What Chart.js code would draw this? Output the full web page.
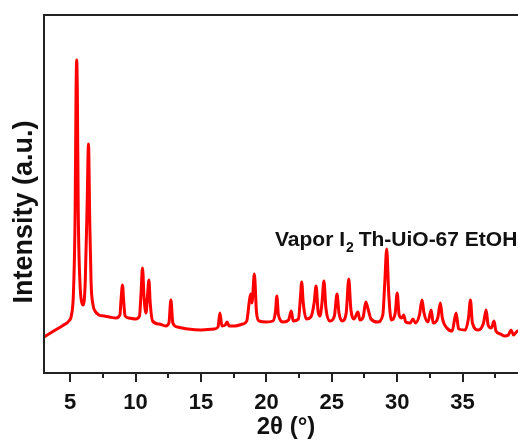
<!DOCTYPE html>
<html>
<head>
<meta charset="utf-8">
<script src="https://cdn.jsdelivr.net/npm/chart.js@4"></script>
<style>
  html, body { margin: 0; padding: 0; overflow: hidden; background: #fff; }
  #xrd { display: block; }
</style>
</head>
<body>
<canvas id="xrd" width="532" height="442"></canvas>
<script>
// 2-theta positions (deg) and intensity (a.u.)
const twoTheta = [
  3.0, 3.5, 4.0, 4.5, 4.9, 5.1, 5.25, 5.38, 5.45, 5.5, 5.55, 5.62, 5.75, 5.9, 6.0,
  6.15, 6.3, 6.4, 6.5, 6.6, 6.75, 6.9, 7.2, 7.6, 8.0, 8.5, 8.8, 8.9, 9.0, 9.1,
  9.2, 9.5, 10.0, 10.3, 10.42, 10.53, 10.65, 10.8, 10.9, 11.02, 11.12, 11.3, 11.8, 12.3, 12.55,
  12.7, 12.85, 13.2, 14.0, 15.0, 16.0, 16.3, 16.45, 16.6, 16.85, 17.0, 17.15, 17.6, 18.2, 18.5,
  18.7, 18.8, 18.9, 19.08, 19.25, 19.45, 20.0, 20.5, 20.7, 20.8, 20.92, 21.3, 21.7, 21.9, 22.05,
  22.45, 22.6, 22.7, 22.82, 23.05, 23.4, 23.65, 23.8, 23.95, 24.1, 24.25, 24.4, 24.55, 24.85, 25.2,
  25.4, 25.55, 25.8, 26.1, 26.3, 26.45, 26.7, 27.0, 27.15, 27.4, 27.6, 27.75, 28.0, 28.5, 28.9,
  29.05, 29.2, 29.35, 29.55, 29.85, 30.0, 30.15, 30.35, 30.5, 30.65, 31.0, 31.2, 31.4, 31.7, 31.9,
  32.05, 32.35, 32.6, 32.75, 33.1, 33.3, 33.45, 33.8, 34.2, 34.5, 34.7, 35.2, 35.45, 35.6, 35.75,
  36.2, 36.6, 36.8, 36.95, 37.2, 37.4, 37.55, 37.9, 38.2, 38.5, 38.7, 38.9, 39.2, 39.5, 40.0
];
const intensity = [
  36, 40, 44, 48, 52, 58, 80, 160, 280, 313, 280, 160, 90, 70, 68,
  90, 170, 229, 150, 90, 68, 62, 58, 57, 56, 55, 58, 75, 88, 70,
  57, 55, 54, 57, 80, 105, 75, 60, 75, 93, 70, 52, 49, 47, 50,
  73, 50, 46, 44, 43, 44, 46, 60, 47, 48, 51, 47, 47, 49, 52,
  72, 79, 70, 99, 60, 52, 51, 52, 62, 77, 58, 51, 53, 62, 52,
  54, 75, 91, 70, 54, 56, 70, 87, 62, 57, 70, 92, 65, 52, 57,
  79, 60, 52, 60, 94, 65, 54, 61, 53, 56, 71, 65, 54, 51, 58,
  90, 124, 80, 53, 60, 80, 58, 55, 58, 51, 50, 54, 50, 58, 73,
  60, 51, 63, 50, 55, 70, 55, 45, 42, 60, 44, 43, 55, 73, 50,
  43, 50, 63, 48, 45, 52, 42, 39, 37, 38, 43, 38, 42, 40, 38
];
const xTickValues = [5, 10, 15, 20, 25, 30, 35];
const xMinorValues = [7.5, 12.5, 17.5, 22.5, 27.5, 32.5, 37.5];
const sampleLabel = ['Vapor I', '2', ' Th-UiO-67 EtOH'];

const FONT = '"Liberation Sans", Arial, sans-serif';

const framePlugin = {
  id: 'frame',
  afterDraw(chart) {
    const { ctx, chartArea: a, scales } = chart;
    ctx.save();
    ctx.strokeStyle = '#222';
    ctx.lineWidth = 2;
    ctx.strokeRect(a.left, a.top, a.right - a.left, a.bottom - a.top);

    // minor ticks
    ctx.beginPath();
    xMinorValues.forEach(v => {
      const px = Math.round(scales.x.getPixelForValue(v));
      ctx.moveTo(px, a.bottom);
      ctx.lineTo(px, a.bottom + 5);
    });
    ctx.stroke();

    // y title
    ctx.fillStyle = '#111';
    ctx.font = 'bold 27px ' + FONT;
    ctx.textAlign = 'center';
    ctx.textBaseline = 'middle';
    ctx.translate(25, 212);
    ctx.rotate(-Math.PI / 2);
    ctx.fillText('Intensity (a.u.)', 0, 0);
    ctx.restore();

    // sample label with subscript
    ctx.save();
    ctx.fillStyle = '#111';
    ctx.textBaseline = 'alphabetic';
    let x = 275;
    const base = 246;
    ctx.font = 'bold 21px ' + FONT;
    ctx.fillText(sampleLabel[0], x, base);
    x += ctx.measureText(sampleLabel[0]).width + 1;
    ctx.font = 'bold 14px ' + FONT;
    ctx.fillText(sampleLabel[1], x, base + 6);
    x += ctx.measureText(sampleLabel[1]).width - 1;
    ctx.font = 'bold 21px ' + FONT;
    ctx.fillText(sampleLabel[2], x, base);
    ctx.restore();
  }
};

new Chart(document.getElementById('xrd'), {
  type: 'line',
  data: {
    datasets: [{
      data: twoTheta.map((t, i) => ({ x: t, y: intensity[i] })),
      borderColor: '#ff0000',
      borderWidth: 3,
      pointRadius: 0,
      cubicInterpolationMode: 'monotone',
      fill: false
    }]
  },
  options: {
    responsive: false,
    animation: false,
    layout: { padding: { top: 15, right: 4, left: 0, bottom: 0 } },
    plugins: { legend: { display: false }, tooltip: { enabled: false } },
    scales: {
      x: {
        type: 'linear',
        min: 3,
        max: 40,
        afterBuildTicks: s => { s.ticks = xTickValues.map(v => ({ value: v })); },
        afterFit: s => { s.height = 69; },
        grid: { display: true, drawOnChartArea: false, drawTicks: true, tickLength: 9, color: '#222', lineWidth: 2 },
        border: { display: false },
        ticks: { color: '#111', font: { family: FONT, size: 22, weight: 'bold' }, padding: 8, maxRotation: 0 },
        title: { display: true, text: '2θ (°)', color: '#111', font: { family: FONT, size: 24, weight: 'bold' }, padding: { top: -4, bottom: 0 } }
      },
      y: {
        min: 0,
        max: 358,
        afterFit: s => { s.width = 44; },
        grid: { display: false },
        border: { display: false },
        ticks: { display: false }
      }
    }
  },
  plugins: [framePlugin]
});
</script>
</body>
</html>
